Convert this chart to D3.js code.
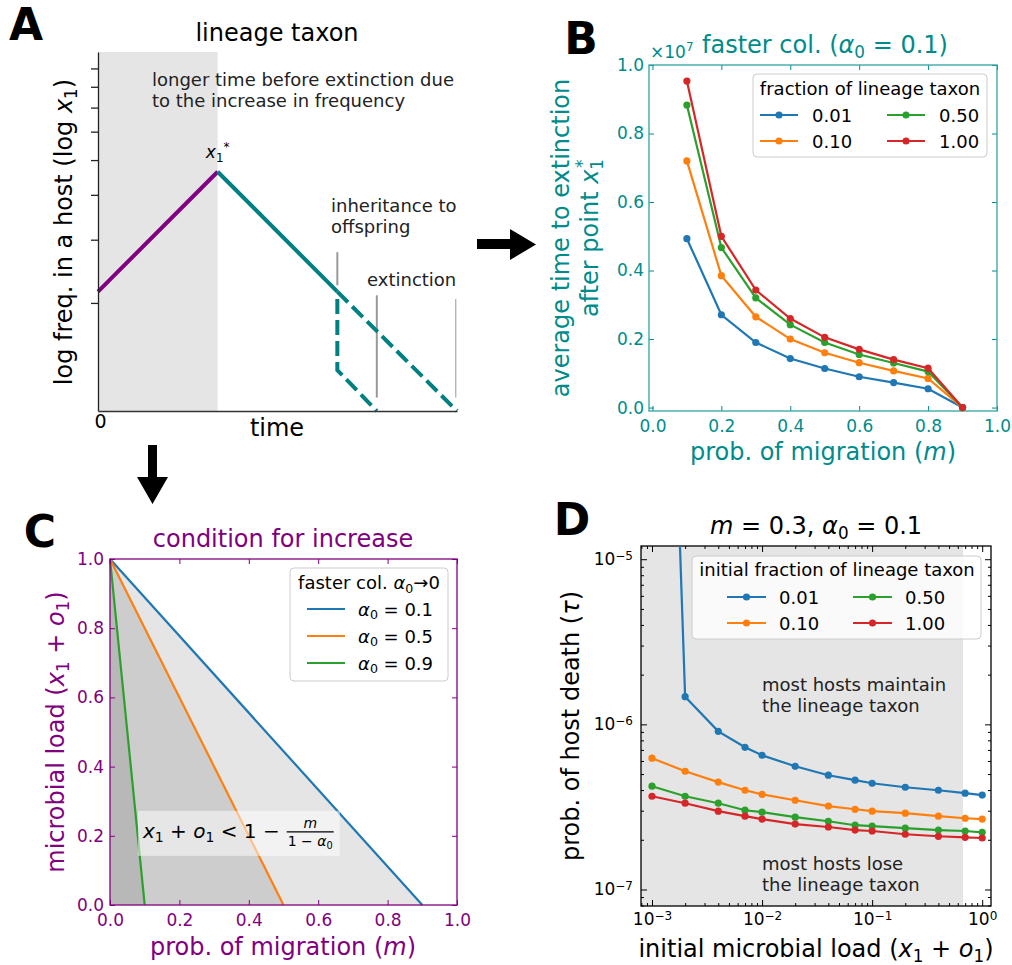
<!DOCTYPE html>
<html>
<head>
<meta charset="utf-8">
<script src="https://cdn.jsdelivr.net/npm/d3@7"></script>
<style>
  body { margin: 0; background: #fff; }
  svg { font-family: "DejaVu Sans", sans-serif; }
  text { white-space: pre; }
</style>
</head>
<body>
<div id="fig"></div>
<script>
// ---------- data ----------
// panel A (schematic): x = time units, y = frequency on a log axis
const schemeGrowth = [[0, 2.15], [1, 4.64]];
const schemeDecline = [[1, 4.64], [2, 2.15]];
const schemeDeclineDashed = [[2, 2.15], [3, 1]];
const schemeInherit = [[2, 2.05], [2, 1.3], [2.33, 1]];
const schemeMarkers = [
  {x: 2, lo: 2.24, hi: 2.77, w: 2},
  {x: 2.33, lo: 1.09, hi: 2.1, w: 2},
  {x: 2.99, lo: 1.09, hi: 2.05, w: 1}
];
const schemeTicks = [2, 3, 4, 5, 6, 7, 8, 9];

// panel B: average time to extinction (x 1e7) vs migration
const migration = [0.1, 0.2, 0.3, 0.4, 0.5, 0.6, 0.7, 0.8, 0.9];
const fractionLabels = ["0.01", "0.10", "0.50", "1.00"];
const timeFrac001 = [0.493, 0.271, 0.19, 0.143, 0.114, 0.09, 0.073, 0.055, 0.0];
const timeFrac010 = [0.72, 0.385, 0.265, 0.2, 0.16, 0.131, 0.107, 0.085, 0.0];
const timeFrac050 = [0.883, 0.467, 0.32, 0.242, 0.19, 0.155, 0.13, 0.105, 0.0];
const timeFrac100 = [0.953, 0.5, 0.343, 0.26, 0.205, 0.17, 0.14, 0.115, 0.0];
const bTicks = [0, 0.2, 0.4, 0.6, 0.8, 1.0];

// panel C: boundary lines, load = 1 at m = 0 down to 0 at m = 1 - alpha0
const alphaLabels = ["0.1", "0.5", "0.9"];
const boundaryEnd = [0.9, 0.5, 0.1];

// panel D: prob. of host death vs initial load
const loads = [0.001, 0.002, 0.004, 0.007, 0.01, 0.02, 0.04, 0.07, 0.1, 0.2, 0.4, 0.7, 1.0];
const deathFrac001 = [1.0, 1.47e-6, 9.07e-7, 7.26e-7, 6.5e-7, 5.57e-7, 4.92e-7, 4.59e-7, 4.4e-7, 4.16e-7, 3.99e-7, 3.83e-7, 3.73e-7];
const deathFrac010 = [6.24e-7, 5.2e-7, 4.47e-7, 3.99e-7, 3.77e-7, 3.47e-7, 3.2e-7, 3.06e-7, 2.98e-7, 2.9e-7, 2.78e-7, 2.7e-7, 2.67e-7];
const deathFrac050 = [4.22e-7, 3.67e-7, 3.33e-7, 3.02e-7, 2.94e-7, 2.74e-7, 2.59e-7, 2.45e-7, 2.42e-7, 2.35e-7, 2.29e-7, 2.26e-7, 2.22e-7];
const deathFrac100 = [3.67e-7, 3.33e-7, 2.98e-7, 2.78e-7, 2.67e-7, 2.49e-7, 2.39e-7, 2.29e-7, 2.26e-7, 2.16e-7, 2.1e-7, 2.07e-7, 2.05e-7];
const maintainLimit = 0.67;

const tab = ["#1f77b4", "#ff7f0e", "#2ca02c", "#d62728"];
const teal = "#008b8b", purple = "#800080";

// ---------- helpers ----------
const svg = d3.select("#fig").append("svg").attr("width", 1012).attr("height", 965);

// text with italic / sub / sup pieces
function rich(sel, parts) {
  const fs = +sel.attr("font-size");
  let off = 0;
  parts.forEach(p => {
    if (typeof p === "string") p = {t: p};
    const shift = p.sub ? 0.22 : p.sup ? -0.42 : 0;
    const ts = sel.append("tspan").text(p.t).attr("dy", (shift - off) * fs);
    if (p.sub || p.sup) ts.attr("font-size", fs * 0.7);
    if (p.it) ts.attr("font-style", "italic");
    if (p.dx) ts.attr("dx", p.dx * fs);
    off = shift;
  });
  return sel;
}

function label(g, x, y, size, parts, o = {}) {
  const t = g.append("text")
    .attr("font-size", size)
    .attr("fill", o.color || "#000")
    .attr("text-anchor", o.anchor || "middle");
  if (o.rotate) t.attr("transform", `translate(${x},${y}) rotate(-90)`);
  else t.attr("x", x).attr("y", y);
  if (o.weight) t.attr("font-weight", o.weight);
  return rich(t, parts);
}

function styleAxis(sel, color, fs) {
  sel.attr("font-family", null).attr("font-size", null);
  sel.select(".domain").remove();
  sel.selectAll("line").attr("stroke", color);
  sel.selectAll("text").attr("fill", color).attr("font-size", fs);
  return sel;
}

// boxed axes with inward ticks on all four sides
function boxAxes(g, x, y, o) {
  const [x0, x1] = x.range(), [y0, y1] = y.range();
  const size = o.tick || 5;
  const put = (fn, scale, vals, tr, len, fmt, pad) =>
    styleAxis(g.append("g").attr("transform", tr)
      .call(fn(scale).tickValues(vals).tickSizeInner(-len).tickSizeOuter(0)
        .tickPadding(pad || 4).tickFormat(fmt || (() => ""))), o.color, o.fs);
  const bx = put(d3.axisBottom, x, o.xTicks, `translate(0,${y0})`, size, o.xFmt, o.xPad);
  put(d3.axisTop, x, o.xTicks, `translate(0,${y1})`, size);
  const ly = put(d3.axisLeft, y, o.yTicks, `translate(${x0},0)`, size, o.yFmt, o.yPad);
  put(d3.axisRight, y, o.yTicks, `translate(${x1},0)`, size);
  if (o.xMinor) {
    put(d3.axisBottom, x, o.xMinor, `translate(0,${y0})`, 3);
    put(d3.axisTop, x, o.xMinor, `translate(0,${y1})`, 3);
  }
  if (o.yMinor) {
    put(d3.axisLeft, y, o.yMinor, `translate(${x0},0)`, 3);
    put(d3.axisRight, y, o.yMinor, `translate(${x1},0)`, 3);
  }
  g.append("rect").attr("x", x0).attr("y", y1).attr("width", x1 - x0).attr("height", y0 - y1)
    .attr("fill", "none").attr("stroke", o.frame || o.color).attr("stroke-width", 1.3);
  return {bx, ly};
}

function legendBox(g, x, y, w, h) {
  g.append("rect").attr("x", x).attr("y", y).attr("width", w).attr("height", h).attr("rx", 4)
    .attr("fill", "#fff").attr("fill-opacity", 0.8).attr("stroke", "#ccc");
}

// ---------- panel A ----------
const gA = svg.append("g");
const aX = d3.scaleLinear().domain([0, 3]).range([98, 457]);
const aY = d3.scaleLog().domain([1, 10]).range([411, 52]);
const lineA = d3.line().x(d => aX(d[0])).y(d => aY(d[1]));

gA.append("rect").attr("x", aX(0)).attr("y", aY(10))
  .attr("width", aX(1) - aX(0)).attr("height", aY(1) - aY(10))
  .attr("fill", "#000").attr("fill-opacity", 0.1);

gA.selectAll(".marker").data(schemeMarkers).join("line")
  .attr("x1", d => aX(d.x)).attr("x2", d => aX(d.x))
  .attr("y1", d => aY(d.lo)).attr("y2", d => aY(d.hi))
  .attr("stroke", "#999").attr("stroke-width", d => d.w);

gA.append("path").datum(schemeGrowth).attr("d", lineA)
  .attr("fill", "none").attr("stroke", purple).attr("stroke-width", 4);
gA.append("path").datum(schemeDecline).attr("d", lineA)
  .attr("fill", "none").attr("stroke", "#008080").attr("stroke-width", 4);
[schemeDeclineDashed, schemeInherit].forEach(s => {
  gA.append("path").datum(s).attr("d", lineA)
    .attr("fill", "none").attr("stroke", "#008080").attr("stroke-width", 4)
    .attr("stroke-dasharray", "15,6");
});

const aLeft = gA.append("g").attr("transform", `translate(${aX(0)},0)`)
  .call(d3.axisLeft(aY).tickValues(schemeTicks).tickSizeInner(7).tickSizeOuter(0).tickFormat(() => ""));
aLeft.attr("font-family", null);
aLeft.selectAll("line,path").attr("stroke", "#222").attr("stroke-width", 1.3);
const aBottom = gA.append("g").attr("transform", `translate(0,${aY(1)})`)
  .call(d3.axisBottom(aX).tickValues([0]).tickSizeInner(0).tickSizeOuter(0).tickPadding(3).tickFormat(d3.format("d")));
aBottom.attr("font-family", null).attr("font-size", null);
aBottom.selectAll("path").attr("stroke", "#333").attr("stroke-width", 1.5);
aBottom.selectAll("text").attr("font-size", 19).attr("fill", "#000").attr("dx", 2);

label(gA, 277, 41, 24, ["lineage taxon"]);
label(gA, 277, 436, 24, ["time"]);
label(gA, 72, 232, 24, ["log freq. in a host (log ", {t: "x", it: true}, {t: "1", sub: true}, ")"], {rotate: true});
label(gA, 152, 86, 18, ["longer time before extinction due"], {anchor: "start", color: "#222"});
label(gA, 152, 107, 18, ["to the increase in frequency"], {anchor: "start", color: "#222"});
label(gA, aX(1), 158, 17, [{t: "x", it: true}, {t: "1", sub: true}, {t: "*", sup: true}]);
label(gA, 331, 212, 18, ["inheritance to"], {anchor: "start", color: "#222"});
label(gA, 331, 233, 18, ["offspring"], {anchor: "start", color: "#222"});
label(gA, 367, 286, 18, ["extinction"], {anchor: "start", color: "#222"});
label(gA, 26, 40, 44, ["A"], {weight: "bold"});

// arrows between panels
svg.append("path").attr("d", "M477,239H510V229L536,244.5L510,260V249H477Z").attr("fill", "#000");
svg.append("path").attr("d", "M148,445H157V477H168L152.5,504L137,477H148Z").attr("fill", "#000");

// ---------- panel B ----------
const gB = svg.append("g");
const bX = d3.scaleLinear().domain([-0.01, 1.0]).range([649, 997]);
const bY = d3.scaleLinear().domain([-0.01, 1.0]).range([411, 65]);
const seriesB = [timeFrac001, timeFrac010, timeFrac050, timeFrac100]
  .map((vals, i) => ({name: fractionLabels[i], color: tab[i], pts: migration.map((m, j) => [m, vals[j]])}));

boxAxes(gB, bX, bY, {
  color: teal, frame: "#33a3a3", fs: 17, xTicks: bTicks, yTicks: bTicks,
  xFmt: d3.format(".1f"), yFmt: d3.format(".1f"), xPad: 9, yPad: 5
});
const lineB = d3.line().x(d => bX(d[0])).y(d => bY(d[1]));
seriesB.forEach(s => {
  gB.append("path").datum(s.pts).attr("d", lineB)
    .attr("fill", "none").attr("stroke", s.color).attr("stroke-width", 2.2);
  gB.selectAll(null).data(s.pts).join("circle")
    .attr("cx", d => bX(d[0])).attr("cy", d => bY(d[1])).attr("r", 3.6).attr("fill", s.color);
});

label(gB, 825, 53, 24, ["faster col. (", {t: "α", it: true}, {t: "0", sub: true}, " = 0.1)"], {color: teal});
label(gB, 650, 58, 17, ["×10", {t: "7", sup: true}], {color: teal, anchor: "start"});
label(gB, 823, 460, 24, ["prob. of migration (", {t: "m", it: true}, ")"], {color: teal});
label(gB, 569, 238, 24, ["average time to extinction"], {color: teal, rotate: true});
label(gB, 598, 238, 24, ["after point ", {t: "x", it: true}, {t: "1", sub: true}, {t: "*", sup: true, dx: -0.38}], {color: teal, rotate: true});
label(gB, 581, 54, 44, ["B"], {weight: "bold"});

legendBox(gB, 753, 74, 234, 83);
label(gB, 870, 95, 18, ["fraction of lineage taxon"]);
seriesB.forEach((s, i) => {
  const col = Math.floor(i / 2), row = i % 2;
  const lx = col ? 887 : 760, ly = row ? 141 : 115;
  gB.append("line").attr("x1", lx).attr("x2", lx + 38).attr("y1", ly).attr("y2", ly)
    .attr("stroke", s.color).attr("stroke-width", 2.2);
  gB.append("circle").attr("cx", lx + 19).attr("cy", ly).attr("r", 3.6).attr("fill", s.color);
  label(gB, lx + 52, ly + 6.5, 18, [s.name], {anchor: "start"});
});

// ---------- panel C ----------
const gC = svg.append("g");
const cX = d3.scaleLinear().domain([0, 1]).range([110, 457]);
const cY = d3.scaleLinear().domain([0, 1]).range([905, 559]);
const seriesC = boundaryEnd.map((m, i) => ({name: alphaLabels[i], color: tab[i], pts: [[0, 1], [m, 0]]}));

seriesC.forEach(s => {
  gC.append("path").attr("d", d3.line()([[cX(0), cY(1)], [cX(s.pts[1][0]), cY(0)], [cX(0), cY(0)]]) + "Z")
    .attr("fill", "#000").attr("fill-opacity", 0.1);
});
seriesC.forEach(s => {
  gC.append("path").datum(s.pts).attr("d", d3.line().x(d => cX(d[0])).y(d => cY(d[1])))
    .attr("fill", "none").attr("stroke", s.color).attr("stroke-width", 2.2);
});

// inequality box
const fx = cX(0.095), fy = cY(0.194);
const fBg = gC.append("rect");
const fMain = label(gC, fx, fy, 20, [{t: "x", it: true}, {t: "1", sub: true}, " + ", {t: "o", it: true}, {t: "1", sub: true}, " < 1 −"], {anchor: "start"});
const fEnd = fx + fMain.node().getComputedTextLength() + 7;
const fW = 47;
gC.append("line").attr("x1", fEnd).attr("x2", fEnd + fW).attr("y1", fy - 6).attr("y2", fy - 6)
  .attr("stroke", "#000").attr("stroke-width", 1.1);
label(gC, fEnd + fW / 2, fy - 10, 14, [{t: "m", it: true}]);
label(gC, fEnd + fW / 2, fy + 8, 14, ["1 − ", {t: "α", it: true}, {t: "0", sub: true}]);
fBg.attr("x", fx - 5).attr("y", fy - 27).attr("width", fEnd + fW + 11 - fx).attr("height", 45)
  .attr("fill", "#fff").attr("fill-opacity", 0.5);

boxAxes(gC, cX, cY, {
  color: purple, fs: 17, xTicks: bTicks, yTicks: bTicks,
  xFmt: d3.format(".1f"), yFmt: d3.format(".1f"), xPad: 9, yPad: 6
});

label(gC, 283, 547, 24, ["condition for increase"], {color: purple});
label(gC, 283, 955, 24, ["prob. of migration (", {t: "m", it: true}, ")"], {color: purple});
label(gC, 64, 732, 24, ["microbial load (", {t: "x", it: true}, {t: "1", sub: true}, " + ", {t: "o", it: true}, {t: "1", sub: true}, ")"], {color: purple, rotate: true});
label(gC, 40, 547, 44, ["C"], {weight: "bold"});

legendBox(gC, 290, 568, 158, 113);
label(gC, 369, 589, 18, ["faster col. ", {t: "α", it: true}, {t: "0", sub: true}, "→0"]);
seriesC.forEach((s, i) => {
  const ly = 609 + i * 27;
  gC.append("line").attr("x1", 307).attr("x2", 345).attr("y1", ly).attr("y2", ly)
    .attr("stroke", s.color).attr("stroke-width", 2.2);
  label(gC, 358, ly + 6.5, 18, [{t: "α", it: true}, {t: "0", sub: true}, " = " + s.name], {anchor: "start"});
});

// ---------- panel D ----------
const gD = svg.append("g");
const dX = d3.scaleLog().domain([Math.pow(10, -3.1), Math.pow(10, 0.08)]).range([641, 991]);
const dY = d3.scaleLog().domain([Math.pow(10, -7.1), Math.pow(10, -4.92)]).range([906, 546]);
const seriesD = [deathFrac001, deathFrac010, deathFrac050, deathFrac100]
  .map((vals, i) => ({name: fractionLabels[i], color: tab[i], pts: loads.map((x, j) => [x, vals[j]])}));

gD.append("clipPath").attr("id", "clipD").append("rect")
  .attr("x", 641).attr("y", 546).attr("width", 350).attr("height", 360);
gD.append("rect").attr("x", dX.range()[0]).attr("y", dY.range()[1])
  .attr("width", dX(maintainLimit) - dX.range()[0]).attr("height", dY.range()[0] - dY.range()[1])
  .attr("fill", "#000").attr("fill-opacity", 0.1);

const minorOf = (scale, decades) => decades.flatMap(e => d3.range(2, 10).map(k => k * Math.pow(10, e)))
  .filter(v => v >= scale.domain()[0] && v <= scale.domain()[1]);
const powerLabels = sel => sel.selectAll(".tick text").each(function(d) {
  const t = d3.select(this).text(null);
  t.append("tspan").text("10");
  const e = Math.round(Math.log10(d));
  t.append("tspan").text(e < 0 ? "−" + (-e) : String(e)).attr("dy", "-0.45em").attr("font-size", 12);
});
const axD = boxAxes(gD, dX, dY, {
  color: "#000", fs: 17, tick: 6,
  xTicks: [1e-3, 1e-2, 1e-1, 1], yTicks: [1e-7, 1e-6, 1e-5],
  xMinor: minorOf(dX, [-4, -3, -2, -1, 0]), yMinor: minorOf(dY, [-8, -7, -6, -5]),
  xFmt: d => String(d), yFmt: d => String(d), xPad: 7, yPad: 8
});
powerLabels(axD.ly);
powerLabels(axD.bx);

const lineD = d3.line().x(d => dX(d[0])).y(d => dY(d[1]));
const plotD = gD.append("g").attr("clip-path", "url(#clipD)");
seriesD.forEach(s => {
  plotD.append("path").datum(s.pts).attr("d", lineD)
    .attr("fill", "none").attr("stroke", s.color).attr("stroke-width", 2.2);
  plotD.selectAll(null).data(s.pts).join("circle")
    .attr("cx", d => dX(d[0])).attr("cy", d => dY(d[1])).attr("r", 3.6).attr("fill", s.color);
});

label(gD, 762, 691, 18, ["most hosts maintain"], {anchor: "start", color: "#222"});
label(gD, 762, 712, 18, ["the lineage taxon"], {anchor: "start", color: "#222"});
label(gD, 762, 870, 18, ["most hosts lose"], {anchor: "start", color: "#222"});
label(gD, 762, 891, 18, ["the lineage taxon"], {anchor: "start", color: "#222"});

label(gD, 816, 534, 24, [{t: "m", it: true}, " = 0.3, ", {t: "α", it: true}, {t: "0", sub: true}, " = 0.1"]);
label(gD, 816, 957, 24, ["initial microbial load (", {t: "x", it: true}, {t: "1", sub: true}, " + ", {t: "o", it: true}, {t: "1", sub: true}, ")"]);
label(gD, 579, 726, 24, ["prob. of host death (", {t: "τ", it: true}, ")"], {rotate: true});
label(gD, 572, 535, 44, ["D"], {weight: "bold"});

legendBox(gD, 692, 556, 289, 83);
label(gD, 837, 576, 18, ["initial fraction of lineage taxon"]);
seriesD.forEach((s, i) => {
  const col = Math.floor(i / 2), row = i % 2;
  const lx = col ? 853 : 727, ly = row ? 623 : 597;
  gD.append("line").attr("x1", lx).attr("x2", lx + 39).attr("y1", ly).attr("y2", ly)
    .attr("stroke", s.color).attr("stroke-width", 2.2);
  gD.append("circle").attr("cx", lx + 19.5).attr("cy", ly).attr("r", 3.6).attr("fill", s.color);
  label(gD, lx + 52, ly + 6.5, 18, [s.name], {anchor: "start"});
});
</script>
</body>
</html>
